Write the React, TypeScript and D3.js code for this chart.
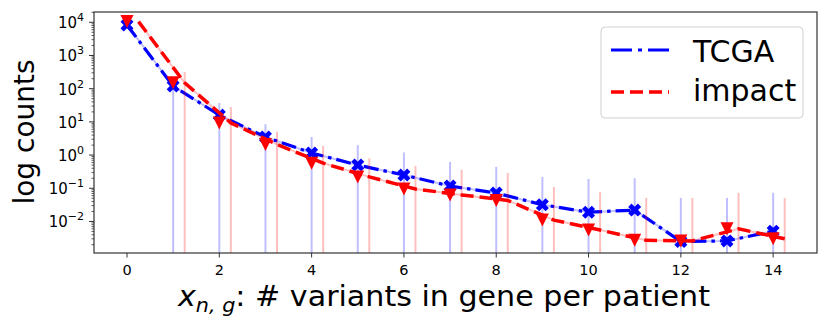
import React from 'react';
import * as d3 from 'd3';

// counts per number of variants (x = 0..14)
const X_VALUES = [0, 1, 2, 3, 4, 5, 6, 7, 8, 9, 10, 11, 12, 13, 14];
const TCGA = [8300, 120, 16, 3.5, 1.16, 0.5, 0.25, 0.117, 0.072, 0.032, 0.019, 0.022, 0.0025, 0.0026, 0.0051];
const IMPACT = [10500, 150, 9.3, 2.1, 0.57, 0.22, 0.095, 0.063, 0.043, 0.011, 0.0055, 0.0027, 0.0026, 0.006, 0.003];
// faint vertical bars (x = 1..14)
const BAR_X = [1, 2, 3, 4, 5, 6, 7, 8, 9, 10, 11, 12, 13, 14];
const TCGA_BARS = [180, 37, 8.5, 3.5, 2.0, 1.2, 0.62, 0.44, 0.22, 0.19, 0.2, 0.051, 0.051, 0.073];
const IMPACT_BARS = [316, 28, 5, 1.9, 0.8, 0.47, 0.36, 0.29, 0.11, 0.078, 0.051, 0.051, 0.073, 0.051];
const X_TICKS = [0, 2, 4, 6, 8, 10, 12, 14];
const Y_TICK_EXP = [-2, -1, 0, 1, 2, 3, 4];
const SERIES_NAMES = ['TCGA', 'impact'];
const IMPACT_SHIFT = 0.25;

const W = 830;
const H = 332;
const margin = { top: 12, right: 13, bottom: 79, left: 94 };

function xMarkerPath(s: number) {
  // filled "X" marker: a plus rotated 45 degrees
  const w = 0.34;
  const pts = [
    [w, 1], [-w, 1], [-w, w], [-1, w], [-1, -w], [-w, -w],
    [-w, -1], [w, -1], [w, -w], [1, -w], [1, w], [w, w],
  ];
  const c = Math.SQRT1_2;
  const k = s / 2 / (c * (1 + w));
  return 'M' + pts.map(([px, py]) => [(px - py) * c * k, (px + py) * c * k].map(v => v.toFixed(2)).join(',')).join('L') + 'Z';
}

function triPath(s: number) {
  const h = s / 2;
  return `M0,${h}L${-h},${-h}L${h},${-h}Z`;
}

export default function App() {
  const x = d3.scaleLinear().domain([-0.715, 14.95]).range([margin.left, W - margin.right]);
  const y = d3.scaleLog().domain([Math.pow(10, -2.95), Math.pow(10, 4.31)]).range([H - margin.bottom, margin.top]);
  const y0 = H - margin.bottom;

  const lineT = d3.line<number>().x((_, i) => x(X_VALUES[i])).y(d => y(d));
  const lineI = d3.line<number>().x((_, i) => x(X_VALUES[i] + IMPACT_SHIFT)).y(d => y(d));

  const minor: number[] = [];
  for (let e = -3; e <= 4; e++) {
    for (let m = 2; m <= 9; m++) {
      const v = m * Math.pow(10, e);
      const py = y(v);
      if (py >= margin.top && py <= y0) minor.push(v);
    }
  }

  const font = 'DejaVu Sans, Verdana, sans-serif';
  const L = margin.left;
  const R = W - margin.right;

  return (
    <svg width={W} height={H} style={{ position: 'absolute', left: 0, top: 0, background: '#fff' }} fontFamily={font}>
      <defs>
        <clipPath id="plotArea">
          <rect x={L} y={margin.top} width={R - L} height={y0 - margin.top} />
        </clipPath>
      </defs>

      <g clipPath="url(#plotArea)">
        {/* TCGA */}
        {BAR_X.map((bx, i) => (
          <line key={'tb' + i} x1={x(bx)} x2={x(bx)} y1={y0} y2={y(TCGA_BARS[i])} stroke="#0000ff" strokeOpacity={0.25} strokeWidth={2} />
        ))}
        <path d={lineT(TCGA) || ''} fill="none" stroke="#0000ff" strokeOpacity={0.25} strokeWidth={2} />
        <path d={lineT(TCGA) || ''} fill="none" stroke="#0000ff" strokeWidth={3.2} strokeDasharray="15,5,3.5,5" />
        {TCGA.map((v, i) => (
          <path key={'tm' + i} d={xMarkerPath(13)} transform={`translate(${x(X_VALUES[i])},${y(v)})`} fill="#0000ff" />
        ))}

        {/* impact */}
        {BAR_X.map((bx, i) => (
          <line key={'ib' + i} x1={x(bx + IMPACT_SHIFT)} x2={x(bx + IMPACT_SHIFT)} y1={y0} y2={y(IMPACT_BARS[i])} stroke="#ff0000" strokeOpacity={0.25} strokeWidth={2} />
        ))}
        <path d={lineI(IMPACT) || ''} fill="none" stroke="#ff0000" strokeOpacity={0.25} strokeWidth={2} />
        <path d={lineI(IMPACT) || ''} fill="none" stroke="#ff0000" strokeWidth={3.5} strokeDasharray="13,6" />
        {IMPACT.map((v, i) => (
          <path key={'im' + i} d={triPath(13)} transform={`translate(${x(X_VALUES[i])},${y(v)})`} fill="#ff0000" />
        ))}
      </g>

      {/* axes frame */}
      <rect x={L} y={margin.top} width={R - L} height={y0 - margin.top} fill="none" stroke="#333" strokeWidth={1.2} />

      {/* x ticks */}
      {X_TICKS.map(t => (
        <g key={'xt' + t}>
          <line x1={x(t)} x2={x(t)} y1={y0} y2={y0 + 4.5} stroke="#333" strokeWidth={1} />
          <text x={x(t)} y={275} textAnchor="middle" fontSize={14.5} fill="#000">{t}</text>
        </g>
      ))}

      {/* y ticks */}
      {minor.map((v, i) => (
        <line key={'ym' + i} x1={L - 2.5} x2={L} y1={y(v)} y2={y(v)} stroke="#333" strokeWidth={0.8} />
      ))}
      {Y_TICK_EXP.map(e => {
        const py = y(Math.pow(10, e));
        const neg = e < 0;
        return (
          <g key={'yt' + e}>
            <line x1={L - 5} x2={L} y1={py} y2={py} stroke="#333" strokeWidth={1} />
            <text x={84} y={py + 6} textAnchor="end" fill="#000">
              <tspan fontSize={15}>10</tspan>
              <tspan fontSize={11} dy={-7}>{neg ? '\u2212' + Math.abs(e) : e}</tspan>
            </text>
          </g>
        );
      })}

      {/* axis labels */}
      <text transform={`translate(34,132) rotate(-90)`} textAnchor="middle" fontSize={28} fill="#000">log counts</text>
      <text x={178} y={306} fontSize={29} fill="#000" textLength={532} lengthAdjust="spacingAndGlyphs">
        <tspan fontStyle="italic">x</tspan>
        <tspan fontStyle="italic" fontSize={20} dy={6}>n, g</tspan>
        <tspan dy={-6}>: # variants in gene per patient</tspan>
      </text>

      {/* legend */}
      <g>
        <rect x={601} y={27} width={202} height={91} rx={4} fill="#fff" fillOpacity={0.8} stroke="#d0d0d0" strokeWidth={1} />
        <line x1={611} x2={669} y1={50} y2={50} stroke="#0000ff" strokeWidth={3.2} strokeDasharray="21,6,4,6" />
        <line x1={611} x2={669} y1={92} y2={92} stroke="#ff0000" strokeWidth={3.5} strokeDasharray="13,6" />
        <text x={693} y={62} fontSize={30} fill="#000">{SERIES_NAMES[0]}</text>
        <text x={693} y={101} fontSize={30} fill="#000">{SERIES_NAMES[1]}</text>
      </g>
    </svg>
  );
}
